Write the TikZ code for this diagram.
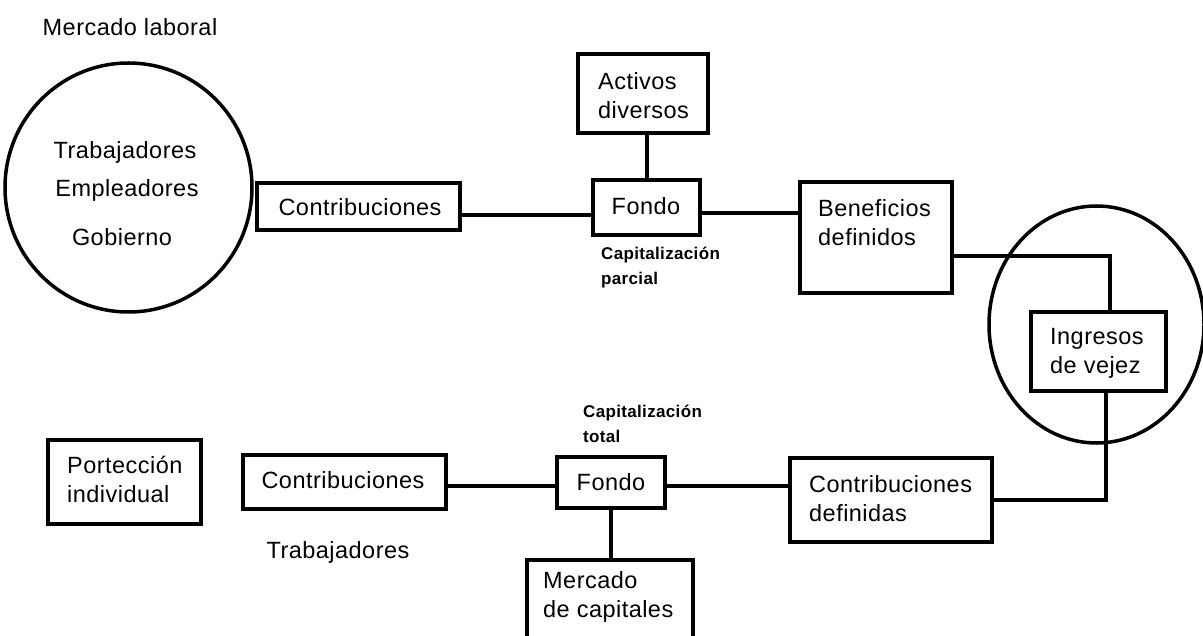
\documentclass[tikz,border=0pt]{standalone}
\usepackage{fontspec}
\setmainfont{Liberation Sans}[LetterSpace=2]
\usetikzlibrary{shapes.geometric}

\tikzset{
  box/.style={draw, rectangle, line width=4pt, inner sep=0pt},
  ring/.style={draw, ellipse, line width=3.5pt, inner sep=0pt},
  link/.style={line width=4pt},
  lbl/.style={font=\fontsize{23.5}{29}\selectfont, inner sep=0pt},
  lbll/.style={lbl, anchor=west, align=left},
  note/.style={font=\fontsize{17}{25}\selectfont\bfseries, inner sep=0pt, anchor=west, align=left}
}

\begin{document}
\begin{tikzpicture}[x=1pt, y=-1pt]
  \useasboundingbox (0,0) rectangle (1203,636);
  \clip (0,0) rectangle (1203,636);

  % labour market
  \node[lbl] (tLaboral) at (130,27) {Mercado laboral};
  \node[ring, minimum width=247pt, minimum height=249pt] (mercadoL) at (128.5,187.5) {};
  \node[lbl] (tTrab) at (125,152) {Trabajadores};
  \node[lbl] (tEmpl) at (127,190) {Empleadores};
  \node[lbl] (tGob)  at (122,237) {Gobierno};

  % defined-benefit branch
  \node[box, minimum width=203pt, minimum height=47pt] (contribA) at (358.5,206.5) {};
  \node[lbl] (tContribA) at (360,207) {Contribuciones};

  \node[box, minimum width=107pt, minimum height=55pt] (fondoA) at (646.5,207.5) {};
  \node[lbl] (tFondoA) at (646,206) {Fondo};

  \node[box, minimum width=130pt, minimum height=79pt] (activos) at (643,94) {};
  \node[lbll] (tActivos) at (598,96) {Activos\\diversos};

  \node[note] (capParc) at (601,268) {Capitalización\\parcial};

  \node[box, minimum width=152pt, minimum height=111pt] (benef) at (876,237.5) {};
  \node[lbll] (tBenef) at (818,222.5) {Beneficios\\definidos};

  % old-age income
  \node[ring, minimum width=215pt, minimum height=237pt] (vejez) at (1096.5,324.5) {};
  \node[box, minimum width=135pt, minimum height=79pt] (ingresos) at (1098.5,351.5) {};
  \node[lbll] (tIngresos) at (1050,353) {Ingresos\\de vejez};

  % defined-contribution branch
  \node[box, minimum width=153pt, minimum height=84pt] (portec) at (124.5,482) {};
  \node[lbll] (tPortec) at (67,479.5) {Portección\\individual};

  \node[box, minimum width=203pt, minimum height=54pt] (contribB) at (344.5,482) {};
  \node[lbl] (tContribB) at (343,480) {Contribuciones};
  \node[lbl] (tTrabB) at (338,552) {Trabajadores};

  \node[note] (capTotal) at (583,424) {Capitalización\\total};

  \node[box, minimum width=108pt, minimum height=51pt] (fondoB) at (611,482.5) {};
  \node[lbl] (tFondoB) at (611,482) {Fondo};

  \node[box, minimum width=166pt, minimum height=100pt] (mercadoC) at (610,610) {};
  \node[lbll] (tMercadoC) at (543,597) {Mercado\\de capitales};

  \node[box, minimum width=202pt, minimum height=84pt] (contribDef) at (891,500) {};
  \node[lbll] (tContribDef) at (809,499) {Contribuciones\\definidas};

  % connectors
  \draw[link] ([yshift=-9pt]contribA.east) -- ([yshift=-9pt]contribA.east -| fondoA.west);
  \draw[link] (activos.south -| fondoA.north) -- (fondoA.north);
  \draw[link] ([yshift=-5.5pt]fondoA.east) -- ([yshift=-5.5pt]fondoA.east -| benef.west);
  \draw[link] ([yshift=-18.5pt]benef.east) -| ([xshift=11pt]ingresos.north);
  \draw[link] ([xshift=7pt]ingresos.south) |- (contribDef.east);

  \draw[link] ([yshift=-4pt]contribB.east) -- ([yshift=-4pt]contribB.east -| fondoB.west);
  \draw[link] ([yshift=-3.5pt]fondoB.east) -- ([yshift=-3.5pt]fondoB.east -| contribDef.west);
  \draw[link] (fondoB.south) -- (fondoB.south |- mercadoC.north);
\end{tikzpicture}
\end{document}
